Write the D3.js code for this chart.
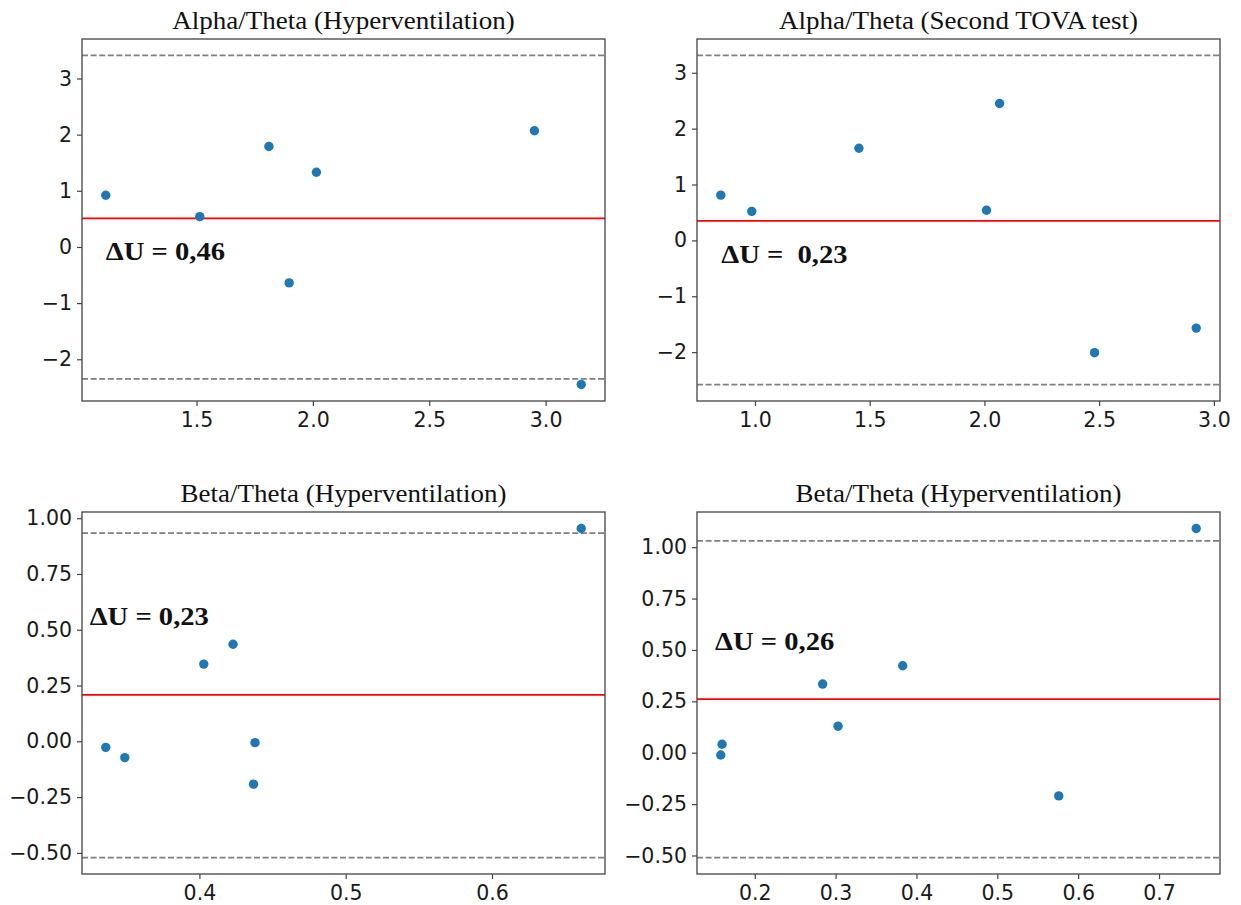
<!DOCTYPE html>
<html>
<head>
<meta charset="utf-8">
<script src="https://cdn.jsdelivr.net/npm/d3@7"></script>
<style>
  body { margin: 0; background: #fff; }
  text { white-space: pre; }
</style>
</head>
<body>
<svg id="chart"></svg>
<script>
// --- data (Bland-Altman style plots) ---
const titles = [
  "Alpha/Theta (Hyperventilation)",
  "Alpha/Theta (Second TOVA test)",
  "Beta/Theta (Hyperventilation)",
  "Beta/Theta (Hyperventilation)"
];

const alphaHypX = [1.11, 1.514, 1.811, 2.015, 1.898, 2.952, 3.153];
const alphaHypY = [0.92, 0.54, 1.79, 1.33, -0.64, 2.07, -2.45];
const alphaTovaX = [0.851, 0.986, 1.453, 2.009, 2.066, 2.48, 2.923];
const alphaTovaY = [0.81, 0.52, 1.65, 0.54, 2.45, -2.01, -1.57];
const betaHyp1X = [0.336, 0.349, 0.403, 0.423, 0.438, 0.437, 0.661];
const betaHyp1Y = [-0.027, -0.073, 0.346, 0.435, -0.006, -0.192, 0.954];
const betaHyp2X = [0.1596, 0.158, 0.284, 0.303, 0.383, 0.576, 0.746];
const betaHyp2Y = [0.041, -0.011, 0.334, 0.129, 0.423, -0.210, 1.091];

// mean difference (red) and limits of agreement (dashed)
const meanLines = [0.51, 0.35, 0.208, 0.261];
const upperLimits = [3.41, 3.31, 0.933, 1.031];
const lowerLimits = [-2.35, -2.58, -0.521, -0.51];

const deltaLabels = ["ΔU = 0,46", "ΔU =  0,23", "ΔU = 0,23", "ΔU = 0,26"];
const labelAt = [[1.11, -0.23], [0.853, -0.41], [0.325, 0.52], [0.151, 0.50]];

const xTicks = [
  [1.5, 2.0, 2.5, 3.0],
  [1.0, 1.5, 2.0, 2.5, 3.0],
  [0.4, 0.5, 0.6],
  [0.2, 0.3, 0.4, 0.5, 0.6, 0.7]
];
const yTicks = [
  [-2, -1, 0, 1, 2, 3],
  [-2, -1, 0, 1, 2, 3],
  [-0.5, -0.25, 0, 0.25, 0.5, 0.75, 1.0],
  [-0.5, -0.25, 0, 0.25, 0.5, 0.75, 1.0]
];
const xFormats = [".1f", ".1f", ".1f", ".1f"];
const yFormats = ["d", "d", ".2f", ".2f"];

const xs = [alphaHypX, alphaTovaX, betaHyp1X, betaHyp2X];
const ys = [alphaHypY, alphaTovaY, betaHyp1Y, betaHyp2Y];

// --- layout ---
const W = 1241, H = 905;
const colLeft = [82, 697];
const rowTop = [39, 512];
const pw = 523, ph = 362;

const svg = d3.select("#chart")
  .attr("width", W)
  .attr("height", H)
  .style("display", "block");

svg.append("rect").attr("width", W).attr("height", H).attr("fill", "#fff");

function padded(ext) {
  const span = ext[1] - ext[0];
  return [ext[0] - span * 0.05, ext[1] + span * 0.05];
}

function fmt(spec) {
  const f = d3.format(spec);
  return d => (d < 0 ? "\u2212" : "") + f(Math.abs(d));
}

titles.forEach((title, i) => {
  const left = colLeft[i % 2];
  const top = rowTop[Math.floor(i / 2)];
  const xData = xs[i], yData = ys[i];
  const points = xData.map((x, k) => ({ x: x, y: yData[k] }));

  const xScale = d3.scaleLinear()
    .domain(padded(d3.extent(xData)))
    .range([0, pw]);

  const yScale = d3.scaleLinear()
    .domain(padded(d3.extent(yData.concat([upperLimits[i], lowerLimits[i], meanLines[i]]))))
    .range([ph, 0]);

  const g = svg.append("g").attr("transform", `translate(${left},${top})`);

  // title
  g.append("text")
    .attr("transform", `translate(${pw / 2},-10) scale(1.08,1)`)
    .attr("text-anchor", "middle")
    .style("font-family", "'Liberation Serif', 'Times New Roman', serif")
    .style("font-size", "25px")
    .style("fill", "#111")
    .text(title);

  const xAxis = d3.axisBottom(xScale)
    .tickValues(xTicks[i])
    .tickSize(5)
    .tickPadding(6)
    .tickFormat(fmt(xFormats[i]));

  const yAxis = d3.axisLeft(yScale)
    .tickValues(yTicks[i])
    .tickSize(5)
    .tickPadding(5)
    .tickFormat(fmt(yFormats[i]));

  const gx = g.append("g").attr("transform", `translate(0,${ph})`).call(xAxis);
  const gy = g.append("g").call(yAxis);

  [gx, gy].forEach(a => {
    a.select(".domain").remove();
    a.selectAll(".tick line").attr("stroke", "#444").attr("stroke-width", 1.2);
    a.selectAll(".tick text")
      .style("font-family", "'DejaVu Sans', sans-serif")
      .style("font-size", "20.5px")
      .attr("fill", "#1a1a1a");
  });

  // limits of agreement
  g.selectAll(".limit")
    .data([upperLimits[i], lowerLimits[i]])
    .enter()
    .append("line")
    .attr("class", "limit")
    .attr("x1", 0)
    .attr("x2", pw)
    .attr("y1", d => yScale(d))
    .attr("y2", d => yScale(d))
    .attr("stroke", "#808080")
    .attr("stroke-width", 1.8)
    .attr("stroke-dasharray", "6,2.6");

  // mean difference
  g.append("line")
    .attr("x1", 0)
    .attr("x2", pw)
    .attr("y1", yScale(meanLines[i]))
    .attr("y2", yScale(meanLines[i]))
    .attr("stroke", "#ff0000")
    .attr("stroke-width", 1.8);

  g.selectAll(".dot")
    .data(points)
    .enter()
    .append("circle")
    .attr("class", "dot")
    .attr("cx", d => xScale(d.x))
    .attr("cy", d => yScale(d.y))
    .attr("r", 4.7)
    .attr("fill", "#1f77b4");

  // annotation
  g.append("text")
    .attr("transform", `translate(${xScale(labelAt[i][0])},${yScale(labelAt[i][1])}) scale(1.1,1)`)
    .style("font-family", "'Liberation Serif', 'Times New Roman', serif")
    .style("font-size", "26px")
    .style("font-weight", "bold")
    .style("fill", "#111")
    .text(deltaLabels[i]);

  // frame
  g.append("rect")
    .attr("width", pw)
    .attr("height", ph)
    .attr("fill", "none")
    .attr("stroke", "#444")
    .attr("stroke-width", 1.3);
});
</script>
</body>
</html>
